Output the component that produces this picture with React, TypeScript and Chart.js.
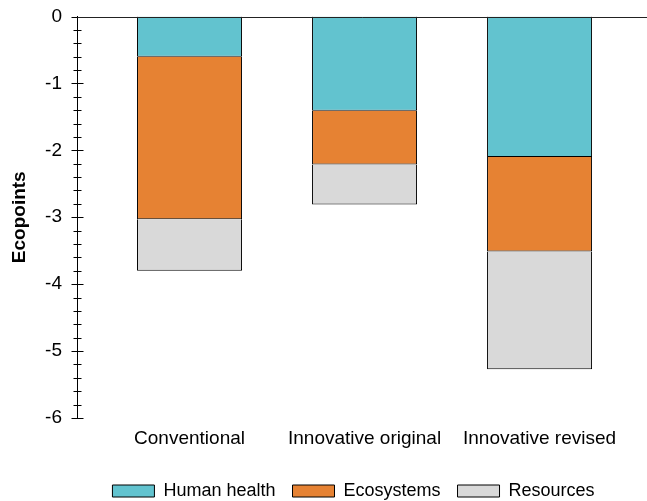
import React, { useEffect, useRef } from "react";
import { Chart, registerables } from "chart.js";

Chart.register(...registerables);

const categories = ["Conventional", "Innovative original", "Innovative revised"];
const humanHealth = [-0.6, -1.41, -2.1];
const ecosystems = [-2.43, -0.8, -1.41];
const resources = [-0.77, -0.6, -1.76];
const seriesNames = ["Human health", "Ecosystems", "Resources"];
const seriesColors = ["#62C3CF", "#E68233", "#D9D9D9"];
const yMin = -6;
const yMax = 0;
const minorStep = 0.2;
const legendShift = 30;

const axisPlugin = {
  id: "crossTicks",
  afterLayout(chart: any) {
    if (chart.legend) {
      chart.legend.left += legendShift;
      chart.legend.right += legendShift;
    }
  },
  afterDraw(chart: any) {
    const ctx = chart.ctx;
    const y = chart.scales.y;
    const area = chart.chartArea;
    const x0 = Math.round(area.left) + 0.5;
    ctx.save();
    ctx.strokeStyle = "#000";
    ctx.lineWidth = 1;
    const n = Math.round((yMax - yMin) / minorStep);
    for (let i = 0; i <= n; i++) {
      const v = yMax - i * minorStep;
      const major = i % 5 === 0;
      const len = major ? 6 : 4;
      const py = Math.round(y.getPixelForValue(v)) + 0.5;
      ctx.beginPath();
      ctx.moveTo(x0 - len, py);
      ctx.lineTo(x0 + len, py);
      ctx.stroke();
    }
    const p0 = Math.round(y.getPixelForValue(0)) + 0.5;
    ctx.strokeStyle = "#222";
    ctx.beginPath();
    ctx.moveTo(x0, p0);
    ctx.lineTo(area.right, p0);
    ctx.stroke();
    ctx.restore();
  },
};

export default function App() {
  const ref = useRef<HTMLCanvasElement | null>(null);
  useEffect(() => {
    Chart.defaults.font.family = "'Liberation Sans', Arial, sans-serif";
    Chart.defaults.color = "#000";
    const series = [humanHealth, ecosystems, resources];
    const chart = new Chart(ref.current as HTMLCanvasElement, {
      type: "bar",
      data: {
        datasets: series.map((s, k) => ({
          label: seriesNames[k],
          data: s.map((v, i) => ({ x: i, y: v })),
          backgroundColor: seriesColors[k],
          borderColor: "#000",
          borderWidth: 1,
          borderSkipped: "start",
          categoryPercentage: 0.6,
          barPercentage: 1,
        })),
      },
      options: {
        animation: false,
        responsive: true,
        maintainAspectRatio: false,
        layout: { padding: { top: 0, right: 0, left: 0, bottom: -9 } },
        plugins: {
          tooltip: { enabled: false },
          legend: {
            position: "bottom",
            labels: {
              boxWidth: 42,
              boxHeight: 12,
              padding: 17,
              font: { size: 18 },
              color: "#000",
            },
          },
        },
        scales: {
          x: {
            type: "linear",
            offset: false,
            stacked: true,
            min: -0.643,
            max: 2.614,
            grid: { display: false },
            border: { display: false },
            afterBuildTicks: (scale: any) => {
              scale.ticks = categories.map((_, i) => ({ value: i }));
            },
            afterFit: (scale: any) => {
              scale.height = 47;
            },
            ticks: {
              autoSkip: false,
              maxRotation: 0,
              padding: 1,
              font: { size: 19 },
              color: "#000",
              callback: (v: any) => categories[v as number] ?? "",
            },
          },
          y: {
            stacked: true,
            min: yMin,
            max: yMax,
            grid: { display: false },
            border: { display: true, color: "#000", width: 1 },
            afterFit: (scale: any) => {
              scale.width = 77;
            },
            ticks: {
              stepSize: 1,
              padding: 7,
              font: { size: 19, lineHeight: 1 },
              color: "#000",
            },
            title: {
              display: true,
              text: "Ecopoints",
              font: { size: 19, weight: "bold" },
              color: "#000",
              padding: { top: 8, bottom: 0 },
            },
          },
        },
      },
      plugins: [axisPlugin],
    });
    return () => chart.destroy();
  }, []);
  return (
    <div style={{ position: "absolute", left: 0, top: 0, width: 647, height: 501 }}>
      <canvas ref={ref} />
    </div>
  );
}
